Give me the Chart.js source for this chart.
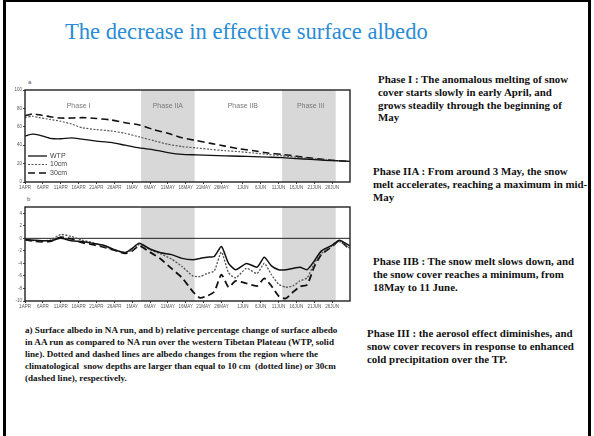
<!DOCTYPE html>
<html>
<head>
<meta charset="utf-8">
<script src="https://cdn.jsdelivr.net/npm/chart.js@4.4.1/dist/chart.umd.min.js"></script>
<style>
    body { margin: 0; width: 594px; height: 436px; background: #fff; position: relative; overflow: hidden; font-family: "Liberation Serif", serif; }
    .bar { position: absolute; background: #000; }
    .title { position: absolute; left: 65px; top: 19px; font-size: 22.6px; color: #2a8cd4; white-space: nowrap; }
    .note { position: absolute; font-weight: bold; font-size: 10.9px; line-height: 12.8px; color: #111; white-space: nowrap; }
    .cap { position: absolute; left: 25px; top: 324px; font-weight: bold; font-size: 9.1px; line-height: 12px; color: #111; white-space: nowrap; }
    .panel { position: absolute; font-family: Arial, sans-serif; font-size: 6px; color: #555; }
    canvas { position: absolute; }
</style>
</head>
<body>
<div class="bar" style="left:3px;top:0;width:3px;height:436px"></div>
<div class="bar" style="left:3px;top:0;width:588px;height:2px"></div>
<div class="bar" style="left:588px;top:0;width:3px;height:436px"></div>

<div class="title">The decrease in effective surface albedo</div>

<div class="panel" style="left:28px;top:79px">a</div>
<div class="panel" style="left:27px;top:196px">b</div>
<div id="boxA" style="position:absolute;left:8px;top:80px;width:350px;height:110px"><canvas id="chartA"></canvas></div>
<div id="boxB" style="position:absolute;left:8px;top:197px;width:350px;height:112px"><canvas id="chartB"></canvas></div>

<div class="note" style="left:378px;top:73px">Phase I : The anomalous melting of snow<br>cover starts slowly in early April, and<br>grows steadily through the beginning of<br>May</div>
<div class="note" style="left:373px;top:165px">Phase IIA : From around 3 May, the snow<br>melt accelerates, reaching a maximum in mid-<br>May</div>
<div class="note" style="left:373px;top:255px">Phase IIB : The snow melt slows down, and<br>the snow cover reaches a minimum, from<br>18May to 11 June.</div>
<div class="note" style="left:367px;top:327px">Phase III : the aerosol effect diminishes, and<br>snow cover recovers in response to enhanced<br>cold precipitation over the TP.</div>

<div class="cap">a) Surface albedo in NA run, and b) relative percentage change of surface albedo<br>in AA run as compared to NA run over the western Tibetan Plateau (WTP, solid<br>line). Dotted and dashed lines are albedo changes from the region where the<br>climatological&nbsp; snow depths are larger than equal to 10 cm&nbsp; (dotted line) or 30cm<br>(dashed line), respectively.</div>

<script>
// x axis: days since 1 April
const tickDays = [0, 5, 10, 15, 20, 25, 30, 35, 40, 45, 50, 55, 61, 66, 71, 76, 81, 86];
const tickLabels = ['1APR', '6APR', '11APR', '16APR', '21APR', '26APR', '1MAY', '6MAY', '11MAY',
    '16MAY', '21MAY', '26MAY', '1JUN', '6JUN', '11JUN', '16JUN', '21JUN', '26JUN'];

// shaded phases and their names
const shadeStart = [32.5, 72];
const shadeEnd = [47.5, 87];
const phaseNames = ['Phase I', 'Phase IIA', 'Phase IIB', 'Phase III'];
const phaseCenters = [15, 40, 61, 80];

// a) surface albedo in NA run
const dayA = [0, 2, 4, 7, 10, 13, 16, 20, 24, 28, 32, 36, 40, 44, 48, 52, 56, 60, 64, 68, 72, 76, 80, 84, 88, 91];
const wtpA = [50, 52, 51, 47.5, 47, 48, 46.5, 44.5, 43, 40, 37, 35, 32, 30, 29.5, 29, 28.5, 28, 27.5, 27, 26.5, 25.5, 24.5, 23.5, 23, 22.5];
const cm10A = [70, 71.5, 70, 68, 66, 63, 59, 57, 55.5, 53, 49, 45, 41, 38.5, 37, 35.5, 34, 33, 31.5, 30, 28.5, 27, 25.5, 24, 23, 22.5];
const cm30A = [72, 74, 73, 71, 69.5, 69.5, 70, 69, 67.5, 64.5, 62, 57, 53, 48, 45, 42, 39, 36, 34, 31.5, 30, 28, 26, 24.5, 23, 22.5];
const ticksA = [0, 20, 40, 60, 80, 100];

// b) relative change (%) AA vs NA
const dayB = [0, 3, 7, 10, 13, 16, 19, 22, 25, 28, 30, 32, 35, 38, 41, 44, 47, 49, 51, 53, 55, 57, 59, 62, 65, 67, 69, 71, 73, 75, 77, 79, 81, 83, 86, 88, 91];
const wtpB = [-0.2, -0.3, -0.4, 0, -0.4, -0.5, -0.8, -1.1, -1.8, -2.3, -1.6, -0.8, -1.7, -2.3, -2.6, -3.2, -3.4, -3.2, -3.0, -2.9, -1.3, -4.0, -5.0, -4.0, -4.6, -3.0, -4.4, -5.0, -5.0, -4.8, -4.6, -5.0, -3.6, -2.0, -1.1, -0.3, -1.2];
const cm10B = [-0.1, -0.4, -0.3, 0.6, 0.3, -0.3, -0.7, -1.3, -1.9, -2.2, -1.9, -1.0, -1.8, -2.5, -3.3, -4.5, -6.0, -6.1, -5.6, -5.2, -2.2, -5.5, -6.3, -4.8, -5.6, -4.0, -5.8, -7.3, -7.8, -7.6, -6.8, -6.3, -4.0, -2.4, -1.2, -0.5, -1.6];
const cm30B = [-0.2, -0.5, -0.5, 0.2, -0.1, -0.7, -1.0, -1.4, -1.9, -2.4, -2.0, -1.2, -2.2, -3.3, -4.8, -6.3, -8.5, -9.5, -9.2, -8.5, -5.8, -7.8, -6.8, -7.2, -7.6, -6.4, -7.6, -9.2, -9.6, -8.6, -7.7, -7.4, -4.5, -2.6, -1.3, -0.4, -1.8];
const ticksB = [-10, -8, -6, -4, -2, 0, 2, 4];

const seriesNames = ['WTP', '10cm', '30cm'];

function pts(days, vals) {
    return days.map((d, i) => ({ x: d, y: vals[i] }));
}

function lineSets(days, wtp, c10, c30, w) {
    return [
        { label: seriesNames[0], data: pts(days, wtp), borderColor: '#111', borderWidth: w },
        { label: seriesNames[1], data: pts(days, c10), borderColor: '#555', borderWidth: w * 0.9, borderDash: [2, 1.5] },
        { label: seriesNames[2], data: pts(days, c30), borderColor: '#111', borderWidth: w * 1.2, borderDash: [7, 4] }
    ];
}

// shading, zero line, frame, phase names, legend
const panelPlugin = {
    id: 'panel',
    beforeDatasetsDraw(chart, args, opts) {
        const { ctx, chartArea: a, scales: { x, y } } = chart;
        ctx.save();
        ctx.fillStyle = '#d8d8d8';
        shadeStart.forEach((s, i) => {
            const x0 = x.getPixelForValue(s), x1 = x.getPixelForValue(shadeEnd[i]);
            ctx.fillRect(x0, a.top, x1 - x0, a.bottom - a.top);
        });
        if (opts.zero) {
            const y0 = y.getPixelForValue(0);
            ctx.strokeStyle = '#222';
            ctx.lineWidth = 1;
            ctx.beginPath();
            ctx.moveTo(a.left, y0);
            ctx.lineTo(a.right, y0);
            ctx.stroke();
        }
        if (opts.phases) {
            ctx.fillStyle = '#777';
            ctx.font = '7px Arial';
            ctx.textAlign = 'center';
            ctx.textBaseline = 'middle';
            phaseNames.forEach((n, i) => {
                ctx.fillText(n, x.getPixelForValue(phaseCenters[i]), y.getPixelForValue(82));
            });
        }
        ctx.restore();
    },
    afterDatasetsDraw(chart, args, opts) {
        const { ctx, chartArea: a } = chart;
        ctx.save();
        ctx.strokeStyle = '#222';
        ctx.lineWidth = 1.4;
        ctx.strokeRect(a.left, a.top, a.right - a.left, a.bottom - a.top);
        if (opts.legend) {
            ctx.font = '7px Arial';
            ctx.textBaseline = 'middle';
            chart.data.datasets.forEach((ds, i) => {
                const ly = a.bottom - 26 + i * 8.5;
                ctx.strokeStyle = ds.borderColor;
                ctx.lineWidth = ds.borderWidth;
                ctx.setLineDash(ds.borderDash || []);
                ctx.beginPath();
                ctx.moveTo(a.left + 3, ly);
                ctx.lineTo(a.left + 22, ly);
                ctx.stroke();
                ctx.fillStyle = '#444';
                ctx.fillText(ds.label, a.left + 25, ly);
            });
        }
        ctx.restore();
    }
};

function axes(min, max, yTicks) {
    const tickFont = { size: 4.5, family: 'Arial' };
    return {
        x: {
            type: 'linear', min: 0, max: 91,
            afterBuildTicks: s => { s.ticks = tickDays.map(v => ({ value: v })); },
            afterFit: s => { s.height = 8; },
            ticks: { font: tickFont, color: '#555', padding: 1, maxRotation: 0, autoSkip: false,
                callback: v => tickLabels[tickDays.indexOf(v)] },
            grid: { display: true, drawOnChartArea: false, tickLength: 2, color: '#444' },
            border: { display: false }
        },
        y: {
            min: min, max: max,
            afterBuildTicks: s => { s.ticks = yTicks.map(v => ({ value: v })); },
            afterFit: s => { s.width = 17; },
            ticks: { font: tickFont, color: '#555', padding: 1 },
            grid: { display: true, drawOnChartArea: false, tickLength: 2, color: '#444' },
            border: { display: false }
        }
    };
}

function makeChart(id, datasets, min, max, yTicks, panelOpts, pad) {
    return new Chart(document.getElementById(id), {
        type: 'line',
        data: { datasets: datasets },
        options: {
            responsive: true,
            maintainAspectRatio: false,
            animation: false,
            layout: { padding: pad },
            elements: { point: { radius: 0 }, line: { tension: 0.2 } },
            plugins: { legend: { display: false }, tooltip: { enabled: false }, panel: panelOpts },
            scales: axes(min, max, yTicks)
        },
        plugins: [panelPlugin]
    });
}

makeChart('chartA', lineSets(dayA, wtpA, cm10A, cm30A, 1.3), 0, 100, ticksA,
    { phases: true, legend: true }, { top: 10, right: 8, bottom: 0, left: 0 });
makeChart('chartB', lineSets(dayB, wtpB, cm10B, cm30B, 1.5), -10, 5, ticksB,
    { zero: true }, { top: 10, right: 8, bottom: 0, left: 0 });
</script>
</body>
</html>
